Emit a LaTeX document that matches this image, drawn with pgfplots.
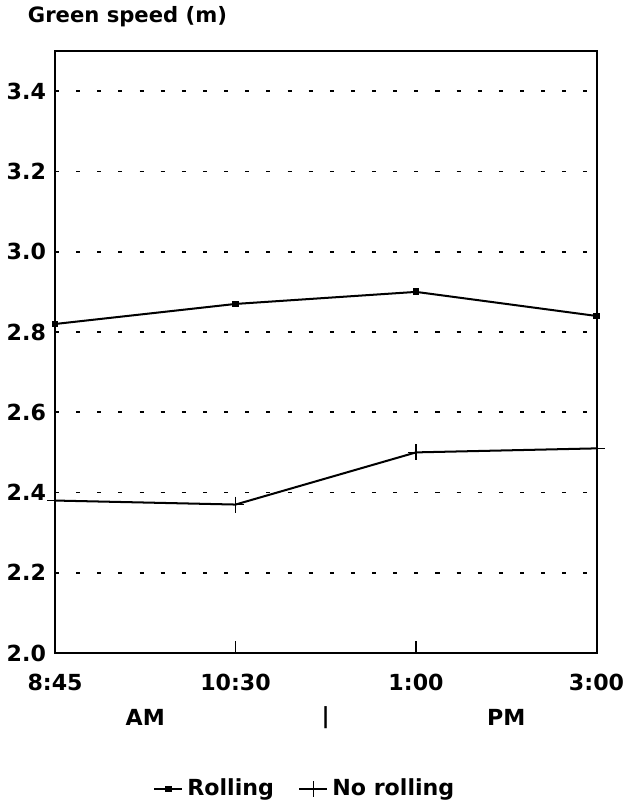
\documentclass[border=0pt]{standalone}
\usepackage{fontspec}
\setmainfont{DejaVu Sans}
\usepackage{pgfplots}
\pgfplotsset{compat=1.18}
\begin{document}
\begin{tikzpicture}
\begin{axis}[
  scale only axis,
  width=269pt, height=299pt,
  xmin=0, xmax=3, ymin=2.0, ymax=3.5,
  xtick={0,1,2,3},
  xticklabels={8:45,10:30,1:00,3:00},
  ytick={2.0,2.2,2.4,2.6,2.8,3.0,3.2,3.4},
  yticklabels={2.0,2.2,2.4,2.6,2.8,3.0,3.2,3.4},
  /pgf/number format/assume math mode=true,
  ticklabel style={font=\fontsize{11}{13}\selectfont\bfseries},
  xtick style={draw=black, line width=0.8pt},
  ytick style={draw=none},
  major tick length=6pt,
  tick align=inside,
  xtick pos=bottom, ytick pos=left,
  yticklabel style={xshift=-1pt},
  xticklabel style={yshift=-7pt},
  ymajorgrids,
  grid style={black, line width=0.8pt, dash pattern=on 2pt off 8.5pt},
  axis line style={line width=1pt},
  clip=false,
  legend style={at={(0.463,-0.226)}, anchor=center, draw=none, fill=none,
    font=\fontsize{11}{13}\selectfont\bfseries, legend columns=2,
    /tikz/every even column/.append style={column sep=10pt}},
  legend image code/.code={\draw[#1] (0pt,0pt) -- (14pt,0pt); \path[#1,mark repeat=1] plot coordinates {(7pt,0pt)};},
]
\addplot[black, line width=1pt, mark=square*, mark size=1.2pt] coordinates {(0,2.82) (1,2.87) (2,2.90) (3,2.84)};
\addlegendentry{Rolling}
\addplot[black, line width=1pt, mark=+, mark size=4pt, mark options={line width=0.6pt}] coordinates {(0,2.38) (1,2.37) (2,2.50) (3,2.51)};
\addlegendentry{No rolling}
\node[font=\fontsize{11}{13}\selectfont\bfseries] at ([yshift=-32pt]axis cs:0.5,2.0) {AM};
\node[font=\fontsize{11}{13}\selectfont\bfseries] at ([yshift=-32pt]axis cs:1.5,2.0) {|};
\node[font=\fontsize{11}{13}\selectfont\bfseries] at ([yshift=-32pt]axis cs:2.5,2.0) {PM};
\node[font=\fontsize{10.5}{12}\selectfont\bfseries, anchor=west] at ([xshift=-17pt,yshift=17pt]rel axis cs:0,1) {Green speed (m)};
\end{axis}
\end{tikzpicture}
\end{document}
